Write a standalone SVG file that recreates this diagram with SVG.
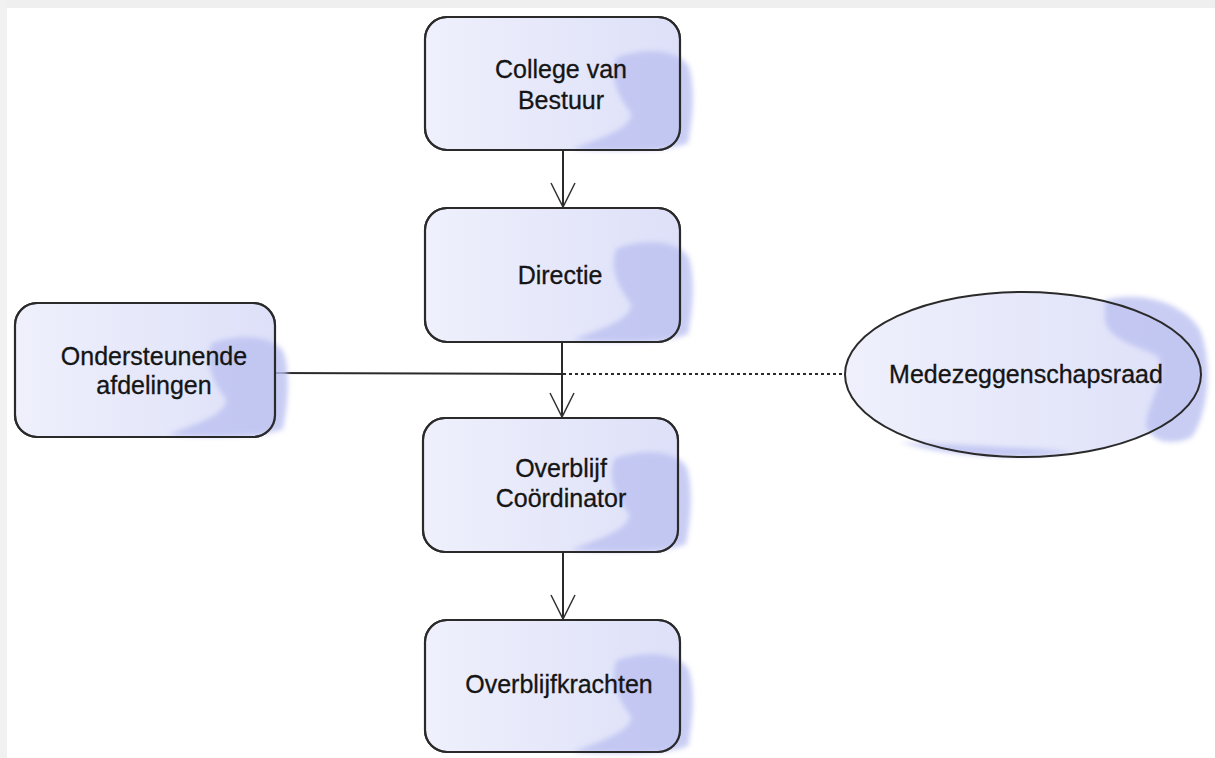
<svg xmlns="http://www.w3.org/2000/svg" width="1215" height="758" viewBox="0 0 1215 758">
  <defs>
    <linearGradient id="fillGrad" x1="0" y1="0" x2="1" y2="0">
      <stop offset="0" stop-color="#eff0fc"/>
      <stop offset="1" stop-color="#dde0f8"/>
    </linearGradient>
    <filter id="blur" x="-20%" y="-20%" width="140%" height="140%">
      <feGaussianBlur stdDeviation="2.5"/>
    </filter>
    <filter id="shadowBlur" x="-10%" y="-10%" width="130%" height="130%">
      <feGaussianBlur stdDeviation="1.5"/>
    </filter>
    <path id="blob" d="M192,40 C222,30 255,33 264,50 C271,75 267,105 263,126 C245,134 200,135 148,132 C172,122 208,112 206,96 C194,80 183,60 192,40 Z"/>
    <marker id="openArrow" markerWidth="30" markerHeight="30" refX="25" refY="13" orient="auto" markerUnits="userSpaceOnUse">
      <path d="M1,1 L25,13 L1,25" fill="none" stroke="#333" stroke-width="1.5"/>
    </marker>
    <style>
      .box { fill: url(#fillGrad); stroke: #2a2a2a; stroke-width: 2; }
      .shadow { fill: none; stroke: #999; stroke-width: 2; opacity: 0.6; filter: url(#shadowBlur); }
      .blob { fill: #bcc1f1; opacity: 0.8; filter: url(#blur); }
      .lbl { font-family: "Liberation Sans", Arial, sans-serif; font-size: 25px; fill: #151515; text-anchor: middle; stroke: #151515; stroke-width: 0.3; }
      .conn { stroke: #2a2a2a; stroke-width: 2; fill: none; }
      .dot { stroke: #2a2a2a; stroke-width: 2; fill: none; stroke-dasharray: 3 3; }
      .edge { fill: none; stroke: #2a2a2a; stroke-width: 2.2; }
    </style>
  </defs>

  <rect x="0" y="0" width="1215" height="758" fill="#ffffff"/>
  <rect x="0" y="0" width="1215" height="8" fill="#efefef"/>
  <rect x="0" y="0" width="7" height="758" fill="#f1f1f1"/>

  <g id="connectors">
    <line class="conn" x1="563" y1="150" x2="563" y2="207" marker-end="url(#openArrow)"/>
    <line class="conn" x1="562" y1="342" x2="562" y2="417" marker-end="url(#openArrow)"/>
    <line class="conn" x1="563" y1="552" x2="563" y2="619" marker-end="url(#openArrow)"/>
    <line class="conn" x1="275" y1="373" x2="562" y2="374"/>
    <line class="dot" x1="563" y1="374" x2="845" y2="374"/>
  </g>

  <g id="node-college" transform="translate(425,17)">
    <line class="shadow" x1="10" y1="135" x2="270" y2="135"/>
    <rect class="box" x="0" y="0" width="255" height="133" rx="22"/>
    <use href="#blob" class="blob"/>
    <rect class="edge" x="0" y="0" width="255" height="133" rx="22"/>
    <text class="lbl" x="136" y="61">College van</text>
    <text class="lbl" x="136" y="92">Bestuur</text>
  </g>

  <g id="node-directie" transform="translate(425,208)">
    <line class="shadow" x1="10" y1="136" x2="270" y2="136"/>
    <rect class="box" x="0" y="0" width="255" height="134" rx="22"/>
    <use href="#blob" class="blob"/>
    <rect class="edge" x="0" y="0" width="255" height="134" rx="22"/>
    <text class="lbl" x="135" y="76">Directie</text>
  </g>

  <g id="node-ondersteunende" transform="translate(15,303)">
    <line class="shadow" x1="10" y1="136" x2="275" y2="136"/>
    <rect class="box" x="0" y="0" width="260" height="134" rx="22"/>
    <use href="#blob" class="blob" transform="translate(5,0)"/>
    <rect class="edge" x="0" y="0" width="260" height="134" rx="22"/>
    <text class="lbl" x="139" y="62">Ondersteunende</text>
    <text class="lbl" x="139" y="91">afdelingen</text>
  </g>

  <g id="node-medezeggenschapsraad">
    <ellipse cx="1023" cy="374.5" rx="178" ry="82.5" fill="url(#fillGrad)"/>
    <path d="M1105,300 C1140,290 1185,303 1200,330 C1212,360 1210,410 1192,437 C1172,447 1150,442 1146,425 C1148,400 1168,380 1158,356 C1138,346 1108,340 1105,320 Z" class="blob"/>
    <path d="M900,442 C950,458 1020,460 1070,452 C1040,448 960,445 900,442 Z" class="blob" opacity="0.5"/>
    <ellipse cx="1023" cy="374.5" rx="178" ry="82.5" fill="none" stroke="#2a2a2a" stroke-width="2"/>
    <text class="lbl" x="1026" y="383">Medezeggenschapsraad</text>
  </g>

  <g id="node-coordinator" transform="translate(423,418)">
    <line class="shadow" x1="10" y1="136" x2="272" y2="136"/>
    <rect class="box" x="0" y="0" width="255" height="134" rx="22"/>
    <use href="#blob" class="blob"/>
    <rect class="edge" x="0" y="0" width="255" height="134" rx="22"/>
    <text class="lbl" x="138" y="59">Overblijf</text>
    <text class="lbl" x="138" y="89">Coördinator</text>
  </g>

  <g id="node-overblijfkrachten" transform="translate(425,620)">
    <line class="shadow" x1="10" y1="134" x2="270" y2="134"/>
    <rect class="box" x="0" y="0" width="255" height="132" rx="22"/>
    <use href="#blob" class="blob"/>
    <rect class="edge" x="0" y="0" width="255" height="132" rx="22"/>
    <text class="lbl" x="134" y="73">Overblijfkrachten</text>
  </g>
</svg>
